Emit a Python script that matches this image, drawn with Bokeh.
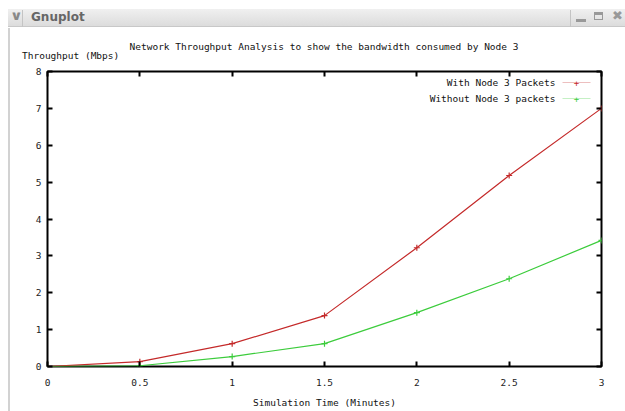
from bokeh.plotting import figure
from bokeh.models import (Range1d, FixedTicker, LinearAxis, Label, PolyAnnotation,
                          ColumnDataSource, Div, Column, Row)
from bokeh.embed import file_html
from bokeh.resources import INLINE

# ---- data ----
time_min = [0, 0.5, 1, 1.5, 2, 2.5, 3]
with_node3 = [0, 0.13, 0.62, 1.38, 3.22, 5.18, 7.0]
without_node3 = [0, 0.02, 0.27, 0.62, 1.46, 2.38, 3.42]
x_ticks = [0, 0.5, 1, 1.5, 2, 2.5, 3]
x_tick_labels = ["0", "0.5", "1", "1.5", "2", "2.5", "3"]
y_ticks = [0, 1, 2, 3, 4, 5, 6, 7, 8]
y_tick_labels = [str(v) for v in y_ticks]
series_names = ["With Node 3 Packets", "Without Node 3 packets"]
title_text = "Network Throughput Analysis to show the bandwidth consumed by Node 3"
x_label = "Simulation Time (Minutes)"
y_label = "Throughput (Mbps)"
window_title = "Gnuplot"

RED = "#c42a2a"
GREEN = "#3ccc3c"
MONO = "DejaVu Sans Mono"
FS = "9.5px"

p = figure(width=615, height=349, output_backend="svg", toolbar_location=None,
           x_range=Range1d(0, 3), y_range=Range1d(0, 8),
           min_border_left=37, min_border_right=24, min_border_top=9,
           min_border_bottom=45, x_axis_location=None, y_axis_location=None,
           title=None)
p.background_fill_color = "white"
p.border_fill_color = "white"
p.grid.visible = False
p.outline_line_color = "black"
p.outline_line_width = 2

def style_axis(ax, ticks, labels, show_labels):
    ax.ticker = FixedTicker(ticks=ticks)
    ax.major_label_overrides = {t: (l if show_labels else "") for t, l in zip(ticks, labels)}
    ax.axis_line_color = None
    ax.major_tick_in = 5
    ax.major_tick_out = 0
    ax.major_tick_line_width = 2
    ax.major_tick_line_color = "black"
    ax.minor_tick_line_color = None
    ax.major_label_text_font = MONO
    ax.major_label_text_font_size = FS
    ax.major_label_text_color = "#222222"
    if not show_labels:
        ax.major_label_standoff = 0

xb = LinearAxis(); style_axis(xb, x_ticks, x_tick_labels, True); xb.major_label_standoff = 12
xb.axis_label = x_label
xb.axis_label_text_font = MONO
xb.axis_label_text_font_size = FS
xb.axis_label_text_font_style = "normal"
xb.axis_label_text_color = "#111111"
xb.axis_label_standoff = 8
yl = LinearAxis(); style_axis(yl, y_ticks, y_tick_labels, True); yl.major_label_standoff = 6
xt = LinearAxis(); style_axis(xt, x_ticks, x_tick_labels, False)
yr = LinearAxis(); style_axis(yr, y_ticks, y_tick_labels, False)
p.add_layout(xb, "below")
p.add_layout(yl, "left")
p.add_layout(xt, "above")
p.add_layout(yr, "right")

# ---- series ----
src = ColumnDataSource(dict(x=time_min, a=with_node3, b=without_node3))
p.line("x", "a", source=src, line_color=RED, line_width=1.2)
p.scatter("x", "a", source=src, marker="cross", size=6, line_color=RED, line_width=1.2)
p.line("x", "b", source=src, line_color=GREEN, line_width=1.2)
p.scatter("x", "b", source=src, marker="cross", size=6, line_color=GREEN, line_width=1.2)

# ---- legend (gnuplot style: text then sample) ----
def lab(x, y, text, align="left", size=FS, color="#111111"):
    p.add_layout(Label(x=x, y=y, x_units="screen", y_units="screen", text=text,
                       text_align=align, text_baseline="middle", text_font=MONO,
                       text_font_size=size, text_color=color))

lab(508, 284, series_names[0], align="right")
lab(508, 268, series_names[1], align="right")
p.add_layout(PolyAnnotation(xs=[515, 543], ys=[284, 284], xs_units="screen", ys_units="screen",
                            fill_alpha=0, line_color=RED, line_width=1.2))
p.add_layout(PolyAnnotation(xs=[515, 543], ys=[268, 268], xs_units="screen", ys_units="screen",
                            fill_alpha=0, line_color=GREEN, line_width=1.2))
lab(529, 284, "+", align="center", color=RED, size="9px")
lab(529, 268, "+", align="center", color=GREEN, size="9px")

# ---- window chrome + titles above the plot box ----
txt = "font-family:'DejaVu Sans Mono';font-size:9.5px;line-height:11px;color:#111;white-space:nowrap;"
head_html = (
    '<div style="position:relative;width:625px;height:62px;background:#ffffff;overflow:hidden;">'
    '<div style="position:absolute;left:8px;top:9px;width:617px;height:18px;'
    'background:linear-gradient(#f0f0f0,#dcdcdc);border-bottom:1px solid #c8c8c8;"></div>'
    '<div style="position:absolute;left:22px;top:10px;width:1px;height:17px;background:#c4c4c4;"></div>'
    '<div style="position:absolute;left:570px;top:10px;width:1px;height:17px;background:#c4c4c4;"></div>'
    '<div style="position:absolute;left:8px;top:28px;width:2px;height:34px;background:#d2d2d2;"></div>'
    '<span style="position:absolute;left:11px;top:8px;font:bold 13px \'DejaVu Sans\';color:#888;'
    'transform:scaleX(1.2);">\u2228</span>'
    '<span style="position:absolute;left:31px;top:10px;font:bold 12px \'DejaVu Sans\';color:#666;">'
    + window_title + '</span>'
    '<span style="position:absolute;left:576px;top:12px;width:10px;height:3px;background:#999;top:19px;"></span>'
    '<span style="position:absolute;left:594px;top:12px;width:9px;height:8px;border:1px solid #999;border-top:3px solid #999;"></span>'
    '<span style="position:absolute;left:612px;top:8px;font:bold 13px \'DejaVu Sans\';color:#999;">\u2716</span>'
    '<span style="position:absolute;left:0;width:648px;text-align:center;top:41px;' + txt + '">'
    + title_text + '</span>'
    '<span style="position:absolute;left:22px;top:50px;' + txt + '">' + y_label + '</span>'
    '</div>'
)
head = Div(text=head_html, width=625, height=62, margin=0)
strip = Div(text='<div style="width:10px;height:349px;background:#fff;position:relative;">'
                 '<div style="position:absolute;left:8px;top:0;width:2px;height:349px;background:#d2d2d2;"></div>'
                 '</div>', width=10, height=349, margin=0)
layout = Column(children=[head, Row(children=[strip, p], spacing=0, margin=0)],
                spacing=0, margin=0)

open("out.html", "w").write(file_html(layout, INLINE))
